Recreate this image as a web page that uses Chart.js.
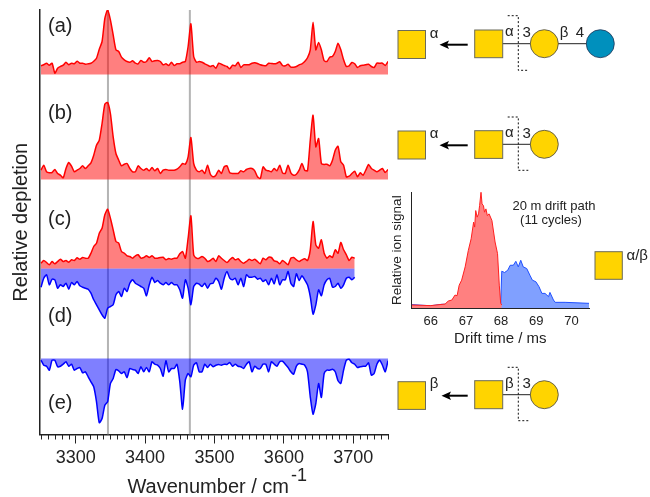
<!DOCTYPE html>
<html>
<head>
<meta charset="utf-8">
<title>IR spectra</title>
<script src="https://cdn.jsdelivr.net/npm/chart.js@4"></script>
<style>
  html, body { margin: 0; padding: 0; background: #fff; }
  #wrap { position: relative; width: 650px; height: 497px; overflow: hidden; }
  canvas { position: absolute; }
  #overlay { position: absolute; left: 0; top: 0; pointer-events: none; }
  #overlay text { font-family: "Liberation Sans", Arial, sans-serif; fill: #222; }
  .sq { fill: #ffd400; stroke: #6b6b5a; stroke-width: 1; }
  .circ { fill: #ffd400; stroke: #444; stroke-width: 0.8; }
  .bond { stroke: #222; stroke-width: 1; }
  .cut { stroke: #111; stroke-width: 1; stroke-dasharray: 2 2; fill: none; }
  .arrow { stroke: #000; stroke-width: 2; }
</style>
</head>
<body>
<div id="wrap">
  <canvas id="mainChart" width="650" height="497" style="left:0;top:0"></canvas>
  <canvas id="driftChart" width="215" height="165" style="left:385px;top:185px"></canvas>
  <svg id="overlay" width="650" height="497">
    <text x="48" y="32" font-size="20">(a)</text>
    <text x="48" y="119" font-size="20">(b)</text>
    <text x="48" y="225" font-size="20">(c)</text>
    <text x="48" y="322" font-size="20">(d)</text>
    <text x="48" y="409" font-size="20">(e)</text>
    <text x="291" y="481" font-size="18">-1</text>

    <!-- row a -->
    <rect class="sq" x="398" y="30.5" width="27.5" height="28"/>
    <text x="434" y="38" font-size="15" text-anchor="middle">α</text>
    <line class="arrow" x1="467.7" y1="44.7" x2="446" y2="44.7"/>
    <polygon points="439.5,44.7 449,40.5 447,44.7 449,48.9" fill="#000"/>
    <line class="bond" x1="502" y1="43.7" x2="531" y2="43.7"/>
    <line class="bond" x1="558" y1="43.7" x2="587" y2="43.7"/>
    <rect class="sq" x="474.7" y="30" width="28" height="27.7"/>
    <circle class="circ" cx="544.3" cy="43.7" r="14"/>
    <circle cx="600.3" cy="43.7" r="14" fill="#0090bd" stroke="#235" stroke-width="0.8"/>
    <path class="cut" d="M507.7 15.7H518.3V70.3H528.3"/>
    <text x="509.3" y="36" font-size="15" text-anchor="middle">α</text>
    <text x="526.7" y="37" font-size="15" text-anchor="middle">3</text>
    <text x="564" y="37" font-size="15" text-anchor="middle">β</text>
    <text x="580" y="37" font-size="15" text-anchor="middle">4</text>

    <!-- row b -->
    <rect class="sq" x="398" y="131" width="27.5" height="28"/>
    <text x="434" y="138" font-size="15" text-anchor="middle">α</text>
    <line class="arrow" x1="467.7" y1="145.3" x2="446" y2="145.3"/>
    <polygon points="439.5,145.3 449,141.1 447,145.3 449,149.5" fill="#000"/>
    <line class="bond" x1="502" y1="144.3" x2="531" y2="144.3"/>
    <rect class="sq" x="474.7" y="130.7" width="28" height="27.7"/>
    <circle class="circ" cx="544.3" cy="144.3" r="14"/>
    <path class="cut" d="M507.7 117H518.3V170.3H528.3"/>
    <text x="509.3" y="137" font-size="15" text-anchor="middle">α</text>
    <text x="526.7" y="138" font-size="15" text-anchor="middle">3</text>

    <!-- row e -->
    <rect class="sq" x="398" y="381.7" width="27.5" height="27.7"/>
    <text x="434" y="388" font-size="15" text-anchor="middle">β</text>
    <line class="arrow" x1="467.7" y1="395.7" x2="448" y2="395.7"/>
    <polygon points="441.5,395.7 451,391.5 449,395.7 451,399.9" fill="#000"/>
    <line class="bond" x1="502" y1="394.7" x2="531" y2="394.7"/>
    <rect class="sq" x="474.7" y="380.7" width="28" height="28"/>
    <circle class="circ" cx="544.3" cy="394.7" r="14"/>
    <path class="cut" d="M507.7 367.3H518.3V420.7H528.3"/>
    <text x="509.3" y="388" font-size="15" text-anchor="middle">β</text>
    <text x="526.7" y="388" font-size="15" text-anchor="middle">3</text>

    <!-- inset -->
    <text x="554" y="209.5" font-size="13" text-anchor="middle">20 m drift path</text>
    <text x="551" y="223.5" font-size="13" text-anchor="middle">(11 cycles)</text>
    <rect class="sq" x="595" y="251.7" width="27.3" height="27.6"/>
    <text x="626.5" y="260" font-size="15">α/β</text>
  </svg>
</div>

<script>
// Data
const wavenumbers = [3250,3254,3258,3262,3266,3270,3274,3278,3282,3286,3290,3294,3298,3302,3306,3310,3314,3318,3322,3326,3330,3334,3338,3342,3346,3350,3354,3358,3362,3366,3370,3374,3378,3382,3386,3390,3394,3398,3402,3406,3410,3414,3418,3422,3426,3430,3434,3438,3442,3446,3450,3454,3458,3462,3466,3470,3474,3478,3482,3486,3490,3494,3498,3502,3506,3510,3514,3518,3522,3526,3530,3534,3538,3542,3546,3550,3554,3558,3562,3566,3570,3574,3578,3582,3586,3590,3594,3598,3602,3606,3610,3614,3618,3622,3626,3630,3634,3638,3642,3646,3650,3654,3658,3662,3666,3670,3674,3678,3682,3686,3690,3694,3698,3702,3706,3710,3714,3718,3722,3726,3730,3734,3738,3742,3746,3750];
const wavenumberTicks = [3300, 3400, 3500, 3600, 3700];

const depletionA = [8.7,9.7,11.3,9.3,11.3,1.3,6.3,8,9.3,12.3,9.7,11.3,10.7,13.3,11.3,11.3,10.3,10.7,11.3,13.3,16.3,25.3,33,56,64.7,54.7,39.7,24.7,23,17.3,14.7,13,12.3,13.7,11.3,10.7,14,12.3,13,16.7,13,13.7,14,13,9.7,10.7,9,12.3,9,10.7,10.7,12.3,13,28,50.7,18,12.3,13,
  12.3,10.7,9.3,8,9,6.3,11.3,10.3,9,8,5.7,9.3,8.7,12.3,7,9.7,9.7,9.7,11.3,11.7,11,9.7,9,8.7,11.3,11,10.7,11.3,12.7,9,8.7,10.3,7.3,7.3,8,9.7,10.7,13,16.7,24.7,52.3,24.7,32,24.7,13.7,13,17.3,18,23,31.3,24.7,14.7,8,8.7,12,10.7,7,8.7,9.3,9.7,10.3,8,7,11.3,11.3,11.3,9,13];

const depletionB = [9.3,14.3,7.7,6.7,7,10,6,4.3,1.7,11,17,13.3,7.7,9.3,11,13.7,11,13.7,16.7,24.3,34.3,39.3,56,75.3,77,66,42.7,26,19.3,13.7,15.3,16,11,7.7,7.7,13.7,11,9.3,11,8.7,12,8.7,11,6,9.3,10,9.3,9.3,9.3,10.3,12.7,16,15.3,22.7,42,16,9.3,7.7,
  9.3,6,14.3,5.3,2.7,4.3,9.3,6,12.7,13.7,6.7,6,6,6,8.7,7.7,10,11,11,8.7,2.7,1,12.7,9.3,8.7,7.7,11,8.7,14.3,6.7,6,14.3,6.7,4.3,5.3,9.3,16,9.3,8.7,39.3,64.3,32.7,41,16,15,15.3,13.7,19.3,29.3,33.3,17.7,14.3,2.7,3.3,6,8.3,2.7,6.7,4.3,9.3,15,11,9.3,7.7,9.3,11,7,10];

const depletionC = [5.3,8,6,3.7,7,4.7,7,9.3,7,8,6.3,8.7,8,10.7,9.3,11,10.3,10.3,15.3,22,25.3,35.3,40.3,53.7,59.3,50.3,38.7,27,25.3,17,15.3,12.7,12,10.3,12.7,13.7,10.3,11,12.7,11,12.7,10.3,10.3,11,11.3,8.7,10,9.3,10.3,10.3,14.7,17,10.3,30.3,52.7,13.7,10.3,10.3,
  12,10.3,7,8,10.3,7,12.7,10.3,8,6,8.7,11,8.7,9.7,7,5.3,7,9.3,8,9.3,7,4.7,10.3,8.7,11.3,11,7.7,7,4.7,8,6,3.7,10.3,11,8.7,7,8.7,9.7,8,18.7,47,23.7,20.3,28.7,15.3,10.3,12.7,11,18.7,15.3,26,18.7,13.7,8,11.3,10.3];

const depletionD = [-18.7,-9.7,-6.3,-16.3,-10.7,-11.3,-19.7,-16.3,-18,-14.7,-20.7,-14,-16.3,-13,-17.3,-18.7,-19.7,-20.7,-24.7,-31.3,-36.3,-41.3,-46.3,-49.7,-39.7,-38,-36.3,-26.3,-23,-28,-19.7,-23,-14.7,-11.3,-14.7,-16.3,-18,-19.7,-27.3,-16.3,-8.7,-14,-12,-14.7,-16.3,-14,-16.3,-14,-16.3,-16.3,-21.3,-29.7,-11.3,-19.7,-36.3,-18,-14.7,-15.7,
  -18,-14.7,-19.7,-15.3,-14.7,-9.7,-13,-20.7,-9.7,-3,-9.7,-11.3,-9.7,-16.3,-9.7,-18,-6.3,-8.7,-8.7,-8,-10.7,-9.7,-13,-11.3,-16.3,-9.7,-15.3,-6.3,-16.3,-11.3,-11.3,-3,-14.7,-18,-5.3,-12,-7.3,-11.3,-16.3,-28,-45.7,-36.3,-21.3,-27.3,-16.3,-11.3,-9.7,-18.7,-18,-14.7,-19.7,-16.3,-9.7,-8.7,-11.3,-8.7];

const depletionE = [-1.7,-6.7,-7.7,-11.7,-1.7,-1.7,-8.3,-7.7,-5.7,-3.3,-7.7,-5.7,-11.7,-10,-9,-14.3,-13.3,-18.3,-23.3,-28.3,-43.3,-64.3,-60,-46.7,-43.3,-25,-20,-11,-12.3,-15,-13.3,-19,-10,-11,-11.7,-15,-8.3,-13.3,-9,-13.3,-3.3,-5.7,-6.7,-10,-17.7,-2.3,-13.3,-10,-10,-5.7,-23.3,-50.7,-21.7,-15,-18.3,-6.7,-4.3,-13.3,
  -13.3,-5.7,-9,-5.7,-8.3,-6.7,-6,-6.7,-5.7,-6,-4,-7.7,-5.7,-7.7,-8.3,-10,-5.7,-3.3,-13.3,-7.7,-10,-10,-5.7,-5.7,-13.3,-3.3,-5.7,-7.7,-3.3,-2.7,-5.7,-9,-13.3,-15.7,-7.7,-5,-5.7,-6.7,-13.3,-38.3,-55.7,-45,-25,-39,-15,-11.7,-11.7,-10.7,-13.3,-22.3,-25,-11.7,-1.7,-0.7,-4.3,-5.7,-9,-8.3,-7.7,-7.7,-4.3,-16.7,-15,-5.7,-1.7,-6.7,-13.3,-2.3];

const markerLines = [3346.5, 3464.5];

// drift time inset
const driftTicks = [66, 67, 68, 69, 70];
const alphaTimes = [65.46,66,66.41,66.5,66.6,66.69,66.75,66.81,66.88,66.98,67.07,67.15,67.22,67.25,67.28,67.32,67.36,67.39,67.43,67.46,67.5,67.53,67.57,67.61,67.66,67.74,67.83,67.9,67.95,67.99,68.02];
const alphaSignal = [3.3,2.7,4.3,7.3,8.3,13.3,12.7,23.3,28.3,41.7,58.3,70,86.7,81.7,98.3,91.7,95,103.3,116.7,105,103.3,96.7,100,93.3,95,88.3,66.7,55,23.3,5,3.3];
const betaTimes = [65.46,65.93,66.03,66.31,67.07,67.55,67.93,67.99,68.02,68.1,68.19,68.26,68.35,68.42,68.49,68.56,68.63,68.73,68.82,68.89,68.99,69.08,69.16,69.25,69.35,69.39,69.49,69.54,69.82,70.5];
const betaSignal = [3.7,2.7,2.7,4,4,4.3,3.3,4,37.3,36,38.3,43.3,43.3,47.3,41.7,48.3,41.7,40,33.3,28.3,26.7,21.7,15,15,11.7,16,8.3,6,6,5];

const FONT = '"Liberation Sans", Arial, sans-serif';
const INK = '#222';
const RED = '#ff0000', RED_FILL = 'rgba(255,0,0,0.5)';
const BLUE = '#0000ff', BLUE_FILL = 'rgba(0,0,255,0.5)';

// height of each trace's zero line above the x axis
const BASE_A = 360, BASE_B = 255, BASE_CD = 166, BASE_E = 76;

function trace(values, base, color, fillColor) {
  return {
    data: values.map((v, i) => ({ x: wavenumbers[i], y: v + base })),
    borderColor: color,
    backgroundColor: fillColor,
    borderWidth: 1.5,
    borderJoinStyle: 'round',
    pointRadius: 0,
    tension: 0.2,
    fill: { value: base }
  };
}

function marker(x) {
  return {
    data: [{ x: x, y: 0 }, { x: x, y: 424.5 }],
    borderColor: '#b4b4b4',
    borderWidth: 2,
    pointRadius: 0,
    fill: false
  };
}

// short ticks between the labelled ones
const minorTicks = {
  id: 'minorTicks',
  afterDraw(chart) {
    const xs = chart.scales.x, c = chart.ctx, bottom = chart.chartArea.bottom;
    c.save();
    c.strokeStyle = INK;
    c.lineWidth = 1;
    for (let w = 3250; w <= 3750; w += 10) {
      if (w % 100 === 0) continue;
      const px = Math.round(xs.getPixelForValue(w)) + 0.5;
      c.beginPath();
      c.moveTo(px, bottom);
      c.lineTo(px, bottom + 5);
      c.stroke();
    }
    c.restore();
  }
};

new Chart(document.getElementById('mainChart'), {
  type: 'line',
  data: {
    datasets: [
      trace(depletionA, BASE_A, RED, RED_FILL),
      trace(depletionB, BASE_B, RED, RED_FILL),
      trace(depletionC, BASE_CD, RED, RED_FILL),
      trace(depletionD, BASE_CD, BLUE, BLUE_FILL),
      trace(depletionE, BASE_E, BLUE, BLUE_FILL),
      marker(markerLines[0]),
      marker(markerLines[1])
    ]
  },
  options: {
    responsive: false,
    animation: false,
    layout: { padding: { left: 9, top: 10, right: 262, bottom: 0 } },
    plugins: { legend: { display: false }, tooltip: { enabled: false } },
    scales: {
      x: {
        type: 'linear',
        min: 3248,
        max: 3750,
        afterBuildTicks(scale) { scale.ticks = wavenumberTicks.map(v => ({ value: v })); },
        afterFit(scale) { scale.height = 62.5; },
        border: { display: true, color: INK, width: 1.5 },
        grid: { display: true, drawOnChartArea: false, drawTicks: true, tickLength: 9, tickColor: INK, tickWidth: 1 },
        ticks: { callback: v => String(v), maxRotation: 0, padding: 4, color: INK, font: { family: FONT, size: 18 } },
        title: { display: true, text: 'Wavenumber / cm\u00a0\u00a0', color: INK, padding: 0, font: { family: FONT, size: 20, lineHeight: 1 } }
      },
      y: {
        min: 0,
        max: 424.5,
        afterFit(scale) { scale.width = 30.6; },
        border: { display: true, color: INK, width: 1.5 },
        grid: { display: true, drawOnChartArea: false, drawTicks: false },
        ticks: { display: false },
        title: { display: true, text: 'Relative depletion', color: INK, padding: 0, font: { family: FONT, size: 20, lineHeight: 1.2 } }
      }
    }
  },
  plugins: [minorTicks]
});

new Chart(document.getElementById('driftChart'), {
  type: 'line',
  data: {
    datasets: [
      {
        data: alphaTimes.map((t, i) => ({ x: t, y: alphaSignal[i] })),
        borderColor: '#ff2020',
        backgroundColor: '#ff8080',
        borderWidth: 1,
        pointRadius: 0,
        fill: 'origin'
      },
      {
        data: betaTimes.map((t, i) => ({ x: t, y: betaSignal[i] })),
        borderColor: '#2050ff',
        backgroundColor: '#80a0ff',
        borderWidth: 1,
        pointRadius: 0,
        fill: 'origin'
      }
    ]
  },
  options: {
    responsive: false,
    animation: false,
    layout: { padding: { left: 5, top: 7, right: 11, bottom: 2 } },
    plugins: { legend: { display: false }, tooltip: { enabled: false } },
    scales: {
      x: {
        type: 'linear',
        min: 65.46,
        max: 70.5,
        afterBuildTicks(scale) { scale.ticks = driftTicks.map(v => ({ value: v })); },
        afterFit(scale) { scale.height = 39.7; },
        border: { display: true, color: INK, width: 1 },
        grid: { display: true, drawOnChartArea: false, drawTicks: false },
        ticks: { callback: v => String(v), maxRotation: 0, padding: 5, color: INK, font: { family: FONT, size: 13 } },
        title: { display: true, text: 'Drift time / ms', color: INK, padding: 0, font: { family: FONT, size: 15, lineHeight: 1.2 } }
      },
      y: {
        min: 0,
        max: 117,
        afterFit(scale) { scale.width = 21.7; },
        border: { display: true, color: INK, width: 1 },
        grid: { display: true, drawOnChartArea: false, drawTicks: false },
        ticks: { display: false },
        title: { display: true, text: 'Relative ion signal', color: INK, padding: 0, font: { family: FONT, size: 13.5, lineHeight: 1.1 } }
      }
    }
  }
});
</script>
</body>
</html>
